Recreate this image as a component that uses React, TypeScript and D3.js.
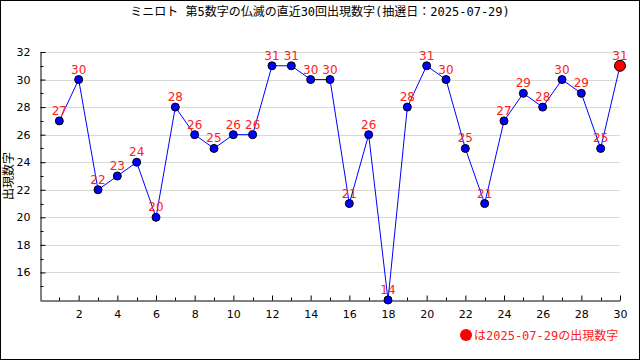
import { useEffect, useRef } from "react";
import * as d3 from "d3";

const draws = d3.range(1, 31);
const numbers = [
  27, 30, 22, 23, 24, 20, 28, 26, 25, 26, 26, 31, 31, 30, 30, 21, 26, 14, 28,
  31, 30, 25, 21, 27, 29, 28, 30, 29, 25, 31,
];
const yTicks = [16, 18, 20, 22, 24, 26, 28, 30, 32];
const xTicks = [2, 4, 6, 8, 10, 12, 14, 16, 18, 20, 22, 24, 26, 28, 30];
const title = "ミニロト 第5数字の仏滅の直近30回出現数字(抽選日：2025-07-29)";
const yLabel = "出現数字";
const legendText = "は2025-07-29の出現数字";

function drawChart(div: HTMLDivElement) {
  if (div.childNodes.length > 0) return;
  const width = 640;
  const height = 360;
  const marginLeft = 40;
  const marginRight = 20;
  const marginTop = 52;
  const marginBottom = 60;
  const font = "'DejaVu Sans', 'Noto Sans CJK JP', sans-serif";
  const titleFont = "'DejaVu Sans Mono', 'Noto Sans CJK JP', monospace";

  const svg = d3
    .select(div)
    .append("svg")
    .attr("width", width)
    .attr("height", height)
    .style("display", "block");

  svg
    .append("rect")
    .attr("x", 0.5)
    .attr("y", 0.5)
    .attr("width", width - 1)
    .attr("height", height - 1)
    .attr("fill", "#fff")
    .attr("stroke", "#000");

  const x = d3
    .scaleLinear()
    .domain([0, 30])
    .range([marginLeft, width - marginRight]);
  const y = d3
    .scaleLinear()
    .domain([14, 32])
    .range([height - marginBottom, marginTop]);

  // grid
  svg
    .append("g")
    .selectAll()
    .data(yTicks)
    .join("line")
    .attr("x1", marginLeft)
    .attr("x2", width - marginRight)
    .attr("y1", (d) => Math.round(y(d)) + 0.5)
    .attr("y2", (d) => Math.round(y(d)) + 0.5)
    .attr("stroke", "#d8d8d8");

  // y axis, ticks pointing inward
  const yAxis = d3
    .axisLeft(y)
    .tickValues(yTicks)
    .tickSize(-5)
    .tickPadding(10)
    .tickSizeOuter(0);
  const gy = svg
    .append("g")
    .attr("transform", `translate(${marginLeft + 0.5},0)`)
    .call(yAxis);
  gy.selectAll("text").attr("font-family", font).attr("font-size", 11).attr("fill", "#000");
  gy.select(".domain").attr("stroke", "#000");
  gy.selectAll()
    .data(d3.range(15, 32, 2))
    .join("line")
    .attr("x1", 0)
    .attr("x2", 3)
    .attr("y1", (d) => Math.round(y(d)) + 0.5)
    .attr("y2", (d) => Math.round(y(d)) + 0.5)
    .attr("stroke", "#000");

  // x axis
  const xAxis = d3
    .axisBottom(x)
    .tickValues(xTicks)
    .tickSize(-5)
    .tickPadding(10)
    .tickSizeOuter(0);
  const gx = svg
    .append("g")
    .attr("transform", `translate(0,${height - marginBottom + 0.5})`)
    .call(xAxis);
  gx.selectAll("text").attr("font-family", font).attr("font-size", 11).attr("fill", "#000");
  gx.select(".domain").attr("stroke", "#000");
  gx.selectAll()
    .data(d3.range(1, 30, 2))
    .join("line")
    .attr("x1", (d) => Math.round(x(d)) + 0.5)
    .attr("x2", (d) => Math.round(x(d)) + 0.5)
    .attr("y1", 0)
    .attr("y2", -3)
    .attr("stroke", "#000");

  // line
  const line = d3
    .line<number>()
    .x((d, i) => x(draws[i]))
    .y((d) => y(d));
  svg
    .append("path")
    .datum(numbers)
    .attr("d", line)
    .attr("fill", "none")
    .attr("stroke", "#0000ff")
    .attr("stroke-width", 1);

  // points
  svg
    .append("g")
    .selectAll()
    .data(numbers)
    .join("circle")
    .attr("cx", (d, i) => x(draws[i]))
    .attr("cy", (d) => y(d))
    .attr("r", (d, i) => (i === numbers.length - 1 ? 5.5 : 4))
    .attr("fill", (d, i) => (i === numbers.length - 1 ? "#ff0000" : "#0000ff"))
    .attr("stroke", "#000");

  // labels
  svg
    .append("g")
    .attr("font-family", font)
    .attr("font-size", 12)
    .attr("fill", "#ff2020")
    .attr("text-anchor", "middle")
    .selectAll()
    .data(numbers)
    .join("text")
    .attr("x", (d, i) => x(draws[i]))
    .attr("y", (d) => y(d) - 6)
    .text((d) => d);

  // title
  svg
    .append("text")
    .attr("x", width / 2)
    .attr("y", 16)
    .attr("text-anchor", "middle")
    .attr("font-family", titleFont)
    .attr("font-size", 12)
    .attr("fill", "#000")
    .text(title);

  // y label
  svg
    .append("text")
    .attr("transform", `translate(13,${(marginTop + height - marginBottom) / 2}) rotate(-90)`)
    .attr("text-anchor", "middle")
    .attr("font-family", font)
    .attr("font-size", 12)
    .attr("fill", "#000")
    .text(yLabel);

  // legend
  const legend = svg.append("g").attr("transform", `translate(466,335)`);
  legend.append("circle").attr("r", 6).attr("fill", "#ff0000");
  legend
    .append("text")
    .attr("x", 8)
    .attr("y", 5)
    .attr("font-family", titleFont)
    .attr("font-size", 12)
    .attr("fill", "#ff2020")
    .text(legendText);
}

export default function App() {
  const divRef = useRef<HTMLDivElement>(null);
  useEffect(() => {
    if (divRef.current) drawChart(divRef.current);
  }, []);
  return (
    <div
      ref={divRef}
      style={{ position: "absolute", left: 0, top: 0 }}
      id={"d3-line-chart"}
    ></div>
  );
}
